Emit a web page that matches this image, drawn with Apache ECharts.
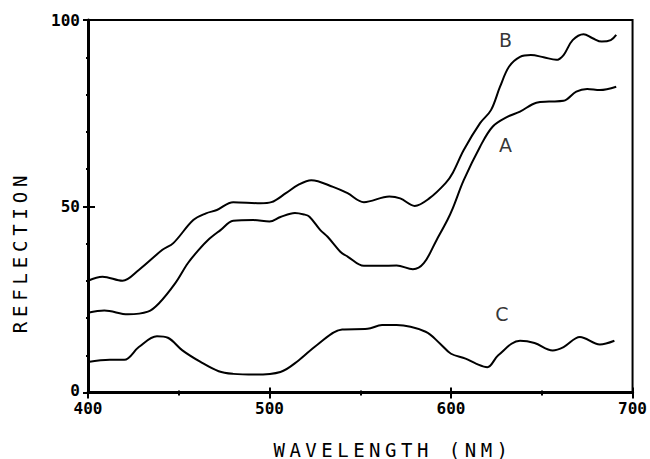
<!DOCTYPE html>
<html>
<head>
<meta charset="utf-8">
<script src="https://cdn.jsdelivr.net/npm/echarts@6/dist/echarts.min.js"></script>
<style>
html,body{margin:0;padding:0;background:#fff;}
#chart{width:650px;height:459px;}
</style>
</head>
<body>
<div id="chart"></div>
<script>
// Curve B
const bWl  = [400, 408, 419, 428, 441, 447, 458, 465, 471, 480, 495, 501, 509, 516, 523, 535, 543, 552, 566, 572, 580, 588, 597, 601, 607, 616, 622, 627, 632, 638, 644, 651, 658, 662, 667, 673, 678, 683, 688, 691];
const bVal = [30.0, 31.1, 30.0, 32.9, 38.3, 40.1, 46.3, 48.1, 49.0, 51.1, 50.8, 51.1, 53.5, 55.8, 57.0, 55.2, 53.5, 51.1, 52.6, 52.1, 50.1, 52.1, 56.2, 59.0, 65.1, 72.3, 75.8, 82.1, 87.5, 90.1, 90.6, 90.0, 89.3, 90.6, 94.6, 96.2, 95.1, 94.2, 94.6, 96.0];
// Curve A
const aWl  = [400, 409, 422, 433, 439, 448, 455, 461, 466, 473, 480, 491, 500, 506, 514, 519, 522, 528, 532, 539, 543, 552, 561, 570, 579, 585, 592, 598, 601, 607, 616, 623, 631, 638, 647, 654, 662, 669, 675, 682, 691];
const aVal = [21.4, 22.0, 21.0, 21.7, 23.9, 29.3, 34.7, 38.3, 40.9, 43.6, 46.1, 46.3, 45.9, 47.1, 48.2, 47.8, 47.2, 43.6, 41.8, 37.8, 36.5, 34.0, 34.0, 34.1, 33.1, 34.7, 40.9, 46.3, 49.5, 57.0, 66.0, 71.4, 74.0, 75.4, 77.8, 78.1, 78.3, 80.8, 81.5, 81.2, 82.1];
// Curve C
const cWl  = [400, 412, 420, 428, 438, 444, 452, 462, 472, 480, 492, 506, 516, 526, 540, 554, 562, 570, 586, 594, 600, 608, 614, 620, 626, 638, 646, 656, 662, 671, 682, 690];
const cVal = [8.2, 8.8, 8.8, 12.2, 15.1, 14.7, 11.3, 8.2, 5.7, 5.0, 4.8, 5.5, 8.6, 12.7, 16.9, 17.1, 18.1, 18.1, 16.3, 13.1, 10.4, 9.1, 7.7, 6.8, 10.0, 13.9, 13.3, 11.3, 12.2, 14.9, 12.9, 13.9];
// Curve labels: [text, wavelength, reflection]
const curveLabels = [['B', 630, 94.5], ['A', 630, 66.4], ['C', 628, 21.2]];
// Axis ranges
const xRange = [400, 700], xStep = 100;
const yRange = [0, 100], yStep = 50;
const xTitle = 'WAVELENGTH (NM)';
const yTitle = 'REFLECTION';

const zip = (xs, ys) => xs.map((x, i) => [x, ys[i]]);
const mono = "'DejaVu Sans Mono', monospace";
const tickFont = {color: '#000', fontFamily: mono, fontSize: 16, fontWeight: 'bold', lineHeight: 13};

const chart = echarts.init(document.getElementById('chart'), null, {renderer: 'svg'});

const baseX = {
  type: 'value', min: xRange[0], max: xRange[1], interval: xStep, position: 'bottom',
  splitLine: {show: false}
};
const baseY = {
  type: 'value', min: yRange[0], max: yRange[1], interval: yStep, position: 'left',
  splitLine: {show: false}
};

const lineSeries = (name, wl, val) => ({
  name, type: 'line', data: zip(wl, val), showSymbol: false, smooth: 0.35,
  lineStyle: {color: '#000', width: 2}, itemStyle: {color: '#000'},
  xAxisIndex: 0, yAxisIndex: 0, z: 3, silent: true
});

chart.setOption({
  animation: false,
  backgroundColor: '#fff',
  grid: {left: 88, right: 17, top: 20, bottom: 66.5, show: true, borderColor: '#000', borderWidth: 2, containLabel: false},
  xAxis: [
    Object.assign({}, baseX, {
      axisLine: {show: true, onZero: false, lineStyle: {color: '#000', width: 3}},
      axisTick: {show: true, inside: false, length: 6, lineStyle: {color: '#000', width: 2}},
      minorTick: {show: true, splitNumber: 2, length: 3, lineStyle: {color: '#000', width: 2}},
      axisLabel: Object.assign({margin: 9.5}, tickFont)
    }),
    Object.assign({}, baseX, {
      axisLine: {show: false, onZero: false},
      axisTick: {show: true, inside: true, length: 5, lineStyle: {color: '#000', width: 2}},
      minorTick: {show: true, splitNumber: 2, length: 2, lineStyle: {color: '#000', width: 2}},
      axisLabel: {show: false}
    })
  ],
  yAxis: [
    Object.assign({}, baseY, {
      axisLine: {show: true, onZero: false, lineStyle: {color: '#000', width: 3}},
      axisTick: {show: true, inside: false, length: 5, lineStyle: {color: '#000', width: 2}},
      minorTick: {show: true, splitNumber: 5, length: 2, lineStyle: {color: '#000', width: 2}},
      axisLabel: Object.assign({margin: 8,
        formatter: v => v === yRange[0] ? '{z|' + v + '}' : String(v),
        rich: {z: Object.assign({padding: [0, 0, 4, 0]}, tickFont)}}, tickFont)
    }),
    Object.assign({}, baseY, {
      axisLine: {show: false, onZero: false},
      axisTick: {show: true, inside: true, length: 7, lineStyle: {color: '#000', width: 2}},
      minorTick: {show: true, splitNumber: 5, length: 2, lineStyle: {color: '#000', width: 2}},
      axisLabel: {show: false}
    })
  ],
  series: [
    lineSeries('B', bWl, bVal),
    lineSeries('A', aWl, aVal),
    lineSeries('C', cWl, cVal),
    {
      type: 'scatter', symbolSize: 0, silent: true, z: 4,
      data: curveLabels.map(d => ({name: d[0], value: [d[1], d[2]]})),
      label: {show: true, position: 'inside', formatter: p => p.name, color: '#000',
              fontFamily: "'DejaVu Sans', sans-serif", fontSize: 19}
    }
  ],
  graphic: [
    {type: 'text', x: 393, y: 449.5, silent: true,
     style: {text: xTitle, fill: '#000', font: "19px 'DejaVu Sans Mono', monospace", lineHeight: 16, align: 'center', verticalAlign: 'middle'}},
    {type: 'text', x: 20, y: 252, rotation: Math.PI / 2, silent: true,
     style: {text: yTitle, fill: '#000', font: "19px 'DejaVu Sans Mono', monospace", lineHeight: 16, align: 'center', verticalAlign: 'middle'}}
  ]
});

function applySpacing() {
  document.querySelectorAll('#chart svg text').forEach(t => {
    const s = t.textContent;
    if (s === xTitle) t.setAttribute('letter-spacing', '4.5');
    if (s === yTitle) t.setAttribute('letter-spacing', '4.8');
  });
}
chart.on('finished', applySpacing);
applySpacing();
setTimeout(applySpacing, 0);
</script>
</body>
</html>
